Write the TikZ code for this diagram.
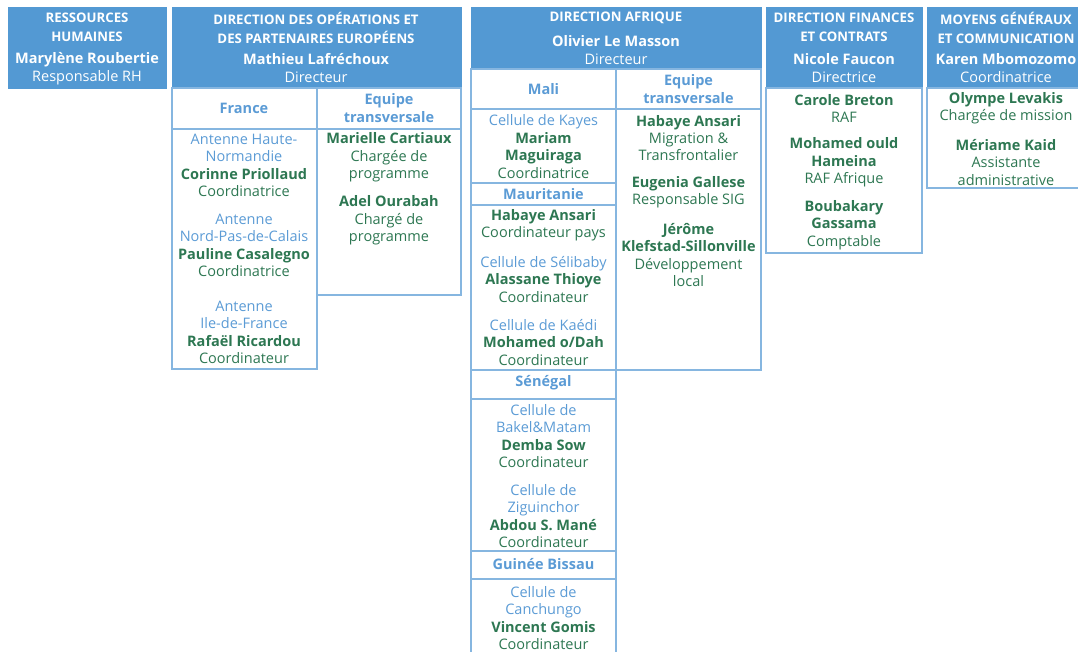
\documentclass[tikz,border=0pt]{standalone}
\usepackage{fontspec}
\setmainfont{Open Sans}
\definecolor{hdr}{HTML}{5399D3}
\definecolor{grn}{HTML}{2D7752}
\definecolor{lbl}{HTML}{5B9BD5}
\definecolor{brd}{HTML}{86B6E0}
\newcommand{\pl}[1]{{\color{lbl}#1}}
\newcommand{\nm}[1]{{\bfseries\color{grn}#1}}
\newcommand{\rl}[1]{{\color{grn}#1}}
\newcommand{\wn}[1]{{\bfseries #1}}
\tikzset{
  hdrbox/.style={fill=hdr,draw=hdr,line width=0.8pt},
  cell/.style={draw=brd,line width=1.2pt},
  txt/.style={align=center,inner sep=0pt,font=\fontsize{14.5}{17.4}\selectfont},
  htitle/.style={align=center,inner sep=0pt,text=white,font=\fontsize{13.2}{19}\selectfont\bfseries},
  hname/.style={align=center,inner sep=0pt,text=white,font=\fontsize{14.5}{18}\selectfont},
  colhd/.style={align=center,inner sep=0pt,text=lbl,font=\fontsize{14.5}{18.5}\selectfont\bfseries}
}
\begin{document}
\begin{tikzpicture}[x=1pt,y=-1pt]
\useasboundingbox (0,0) rectangle (1078,651);
% ---------- RH ----------
\draw[hdrbox] (8,7) rectangle (166,88);
\node[htitle] (rhT) at (87,27.5) {RESSOURCES\\HUMAINES};
\node[hname] (rhN) at (87,68.5) {\wn{Marylène Roubertie}\\Responsable RH};
% ---------- DOPE ----------
\draw[hdrbox] (172,7) rectangle (461,88);
\node[htitle] (dpT) at (316,27.5) {DIRECTION DES OPÉRATIONS ET\\DES PARTENAIRES EUROPÉENS};
\node[hname] (dpN) at (316,68.5) {\wn{Mathieu Lafréchoux}\\Directeur};
\draw[cell] (172,88) rectangle (317,129);
\draw[cell] (317,88) rectangle (461,129);
\draw[cell] (172,129) rectangle (317,369);
\draw[cell] (317,129) rectangle (461,295);
\node[colhd] (frH) at (244,108.5) {France};
\node[colhd] (etH) at (389,108) {Equipe\\transversale};
\node[txt] (fr1) at (244,165.5) {\pl{Antenne Haute-}\\\pl{Normandie}\\\nm{Corinne Priollaud}\\\rl{Coordinatrice}};
\node[txt] (fr2) at (244,245.5) {\pl{Antenne}\\\pl{Nord-Pas-de-Calais}\\\nm{Pauline Casalegno}\\\rl{Coordinatrice}};
\node[txt] (fr3) at (244,332.5) {\pl{Antenne}\\\pl{Ile-de-France}\\\nm{Rafaël Ricardou}\\\rl{Coordinateur}};
\node[txt] (et1) at (389,157.5) {\nm{Marielle Cartiaux}\\\rl{Chargée de}\\\rl{programme}};
\node[txt] (et2) at (389,220.5) {\nm{Adel Ourabah}\\\rl{Chargé de}\\\rl{programme}};
% ---------- AFRIQUE ----------
\draw[hdrbox] (471,7) rectangle (761,69);
\node[htitle] (afT) at (616,18) {DIRECTION AFRIQUE};
\node[hname] (afN) at (616,50) {\wn{Olivier Le Masson}\\Directeur};
\draw[cell] (471,69) rectangle (616,109);
\draw[cell] (616,69) rectangle (761,109);
\draw[cell] (471,109) rectangle (616,183);
\draw[cell] (471,183) rectangle (616,205);
\draw[cell] (471,205) rectangle (616,370);
\draw[cell] (471,370) rectangle (616,399);
\draw[cell] (471,399) rectangle (616,551);
\draw[cell] (471,551) rectangle (616,579);
\draw[cell] (471,579) rectangle (616,670);
\draw[cell] (616,109) rectangle (761,370);
\node[colhd] (maH) at (543.5,89.5) {Mali};
\node[colhd] (eaH) at (688.5,89) {Equipe\\transversale};
\node[txt] (ma1) at (543.5,146.5) {\pl{Cellule de Kayes}\\\nm{Mariam}\\\nm{Maguiraga}\\\rl{Coordinatrice}};
\node[colhd] (mrH) at (543.5,194.5) {Mauritanie};
\node[txt] (mr1) at (543.5,225) {\nm{Habaye Ansari}\\\rl{Coordinateur pays}};
\node[txt] (mr2) at (543.5,279.5) {\pl{Cellule de Sélibaby}\\\nm{Alassane Thioye}\\\rl{Coordinateur}};
\node[txt] (mr3) at (543.5,342.5) {\pl{Cellule de Kaédi}\\\nm{Mohamed o/Dah}\\\rl{Coordinateur}};
\node[colhd] (snH) at (543.5,382.5) {Sénégal};
\node[txt] (sn1) at (543.5,436) {\pl{Cellule de}\\\pl{Bakel\&Matam}\\\nm{Demba Sow}\\\rl{Coordinateur}};
\node[txt] (sn2) at (543.5,516) {\pl{Cellule de}\\\pl{Ziguinchor}\\\nm{Abdou S. Mané}\\\rl{Coordinateur}};
\node[colhd] (gbH) at (543.5,564.5) {Guinée Bissau};
\node[txt] (gb1) at (543.5,618) {\pl{Cellule de}\\\pl{Canchungo}\\\nm{Vincent Gomis}\\\rl{Coordinateur}};
\node[txt] (ea1) at (688.5,138) {\nm{Habaye Ansari}\\\rl{Migration \&}\\\rl{Transfrontalier}};
\node[txt] (ea2) at (688.5,192.5) {\nm{Eugenia Gallese}\\\rl{Responsable SIG}};
\node[txt] (ea3) at (688.5,255) {\nm{Jérôme}\\\nm{Klefstad-Sillonville}\\\rl{Développement}\\\rl{local}};
% ---------- FINANCES ----------
\draw[hdrbox] (766,7) rectangle (922,88);
\node[htitle] (fiT) at (844,27.5) {DIRECTION FINANCES\\ET CONTRATS};
\node[hname] (fiN) at (844,68.5) {\wn{Nicole Faucon}\\Directrice};
\draw[cell] (766,88) rectangle (922,253);
\node[txt] (fi1) at (844,108.5) {\nm{Carole Breton}\\\rl{RAF}};
\node[txt] (fi2) at (844,162.5) {\nm{Mohamed ould}\\\nm{Hameina}\\\rl{RAF Afrique}};
\node[txt] (fi3) at (844,225) {\nm{Boubakary}\\\nm{Gassama}\\\rl{Comptable}};
% ---------- MOYENS ----------
\draw[hdrbox] (927,7) rectangle (1090,88);
\node[htitle] (moT) at (1006,27.5) {MOYENS GÉNÉRAUX\\ET COMMUNICATION};
\node[hname] (moN) at (1006,68.5) {\wn{Karen Mbomozomo}\\Coordinatrice};
\draw[cell] (927,88) rectangle (1090,188);
\node[txt] (mo1) at (1006,108.5) {\nm{Olympe Levakis}\\\rl{Chargée de mission}};
\node[txt] (mo2) at (1006,162.5) {\nm{Mériame Kaid}\\\rl{Assistante}\\\rl{administrative}};
\end{tikzpicture}
\end{document}
